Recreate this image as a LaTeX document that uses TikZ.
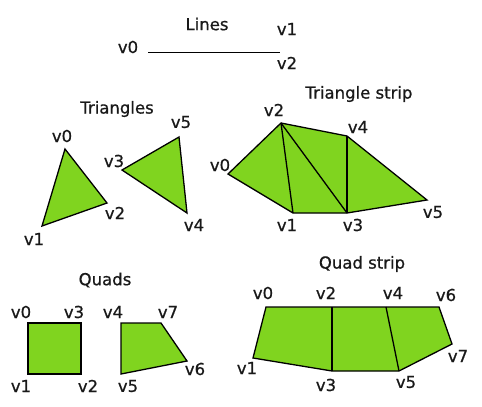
\documentclass[tikz,border=0pt]{standalone}
\usepackage{fontspec}
\setmainfont{DejaVu Sans}
\newfontfamily\lblfont[FakeBold=0.8]{DejaVu Sans}
\definecolor{primgreen}{RGB}{128,212,31}
\begin{document}
\begin{tikzpicture}[
        x=1pt, y=-1pt,
        font=\lblfont\fontsize{16.5}{19}\selectfont,
        % Stile
        prim/.style={draw=black, fill=primgreen, line width=1.3pt, line join=miter},
        edge/.style={draw=black, line width=1.3pt},
        lbl/.style={inner sep=0pt, text=black!90},
        heading/.style={inner sep=0pt, text=black!90}
    ]
    \useasboundingbox (0,0) rectangle (482,407);

    % ==========================================
    % 1. LINES
    % ==========================================
    \node[heading] (lines) at (207,24) {Lines};
    \coordinate (ln0) at (148,52);
    \coordinate (ln1) at (280,52);
    \draw[edge, line width=1pt] (ln0) -- (ln1);
    \node[lbl] (lnv0) at (128,47) {v0};
    \node[lbl] (lnv1) at (287,29) {v1};
    \node[lbl] (lnv2) at (287,63) {v2};

    % ==========================================
    % 2. TRIANGLES
    % ==========================================
    \node[heading] (triangles) at (117,109) {Triangles};
    \coordinate (tr0) at (65,149);
    \coordinate (tr1) at (42,226);
    \coordinate (tr2) at (107,203);
    \coordinate (tr3) at (122,170);
    \coordinate (tr4) at (187,213);
    \coordinate (tr5) at (179,137);
    \draw[prim] (tr0) -- (tr1) -- (tr2) -- cycle;
    \draw[prim] (tr3) -- (tr4) -- (tr5) -- cycle;
    \node[lbl] (trv0) at (62,136) {v0};
    \node[lbl] (trv1) at (34,239) {v1};
    \node[lbl] (trv2) at (115,213) {v2};
    \node[lbl] (trv3) at (114,161) {v3};
    \node[lbl] (trv4) at (194,225) {v4};
    \node[lbl] (trv5) at (181,122) {v5};

    % ==========================================
    % 3. TRIANGLE STRIP
    % ==========================================
    \node[heading] (tristrip) at (359,94) {Triangle strip};
    \coordinate (ts0) at (228,174);
    \coordinate (ts1) at (293,213);
    \coordinate (ts2) at (281,123);
    \coordinate (ts3) at (347,213);
    \coordinate (ts4) at (347,136);
    \coordinate (ts5) at (427,200);
    \draw[prim] (ts0) -- (ts2) -- (ts4) -- (ts5) -- (ts3) -- (ts1) -- cycle;
    \draw[edge] (ts2) -- (ts1);
    \draw[edge] (ts2) -- (ts3);
    \draw[edge] (ts4) -- (ts3);
    \node[lbl] (tsv0) at (220,165) {v0};
    \node[lbl] (tsv1) at (287,225) {v1};
    \node[lbl] (tsv2) at (274,110) {v2};
    \node[lbl] (tsv3) at (353,225) {v3};
    \node[lbl] (tsv4) at (358,127) {v4};
    \node[lbl] (tsv5) at (433,212) {v5};

    % ==========================================
    % 4. QUADS
    % ==========================================
    \node[heading] (quads) at (105,280) {Quads};
    \coordinate (qd0) at (28,323);
    \coordinate (qd1) at (28,374);
    \coordinate (qd2) at (81,374);
    \coordinate (qd3) at (81,323);
    \coordinate (qd4) at (121,323);
    \coordinate (qd5) at (121,374);
    \coordinate (qd6) at (187,361);
    \coordinate (qd7) at (161,323);
    \draw[prim] (qd0) -- (qd1) -- (qd2) -- (qd3) -- cycle;
    \draw[prim] (qd4) -- (qd5) -- (qd6) -- (qd7) -- cycle;
    \node[lbl] (qdv0) at (21,312) {v0};
    \node[lbl] (qdv1) at (21,386) {v1};
    \node[lbl] (qdv2) at (88,386) {v2};
    \node[lbl] (qdv3) at (74,312) {v3};
    \node[lbl] (qdv4) at (113,312) {v4};
    \node[lbl] (qdv5) at (128,386) {v5};
    \node[lbl] (qdv6) at (195,369) {v6};
    \node[lbl] (qdv7) at (168,312) {v7};

    % ==========================================
    % 5. QUAD STRIP
    % ==========================================
    \node[heading] (quadstrip) at (362,264) {Quad strip};
    \coordinate (qs0) at (266,307);
    \coordinate (qs1) at (253,358);
    \coordinate (qs2) at (332,307);
    \coordinate (qs3) at (332,371);
    \coordinate (qs4) at (386,307);
    \coordinate (qs5) at (399,371);
    \coordinate (qs6) at (439,307);
    \coordinate (qs7) at (452,344);
    \draw[prim] (qs0) -- (qs1) -- (qs3) -- (qs5) -- (qs7) -- (qs6) -- (qs4) -- (qs2) -- cycle;
    \draw[edge] (qs2) -- (qs3);
    \draw[edge] (qs4) -- (qs5);
    \node[lbl] (qsv0) at (263,293) {v0};
    \node[lbl] (qsv1) at (247,368) {v1};
    \node[lbl] (qsv2) at (326,293) {v2};
    \node[lbl] (qsv3) at (326,385) {v3};
    \node[lbl] (qsv4) at (393,293) {v4};
    \node[lbl] (qsv5) at (406,382) {v5};
    \node[lbl] (qsv6) at (446,295) {v6};
    \node[lbl] (qsv7) at (458,356) {v7};

\end{tikzpicture}
\end{document}
